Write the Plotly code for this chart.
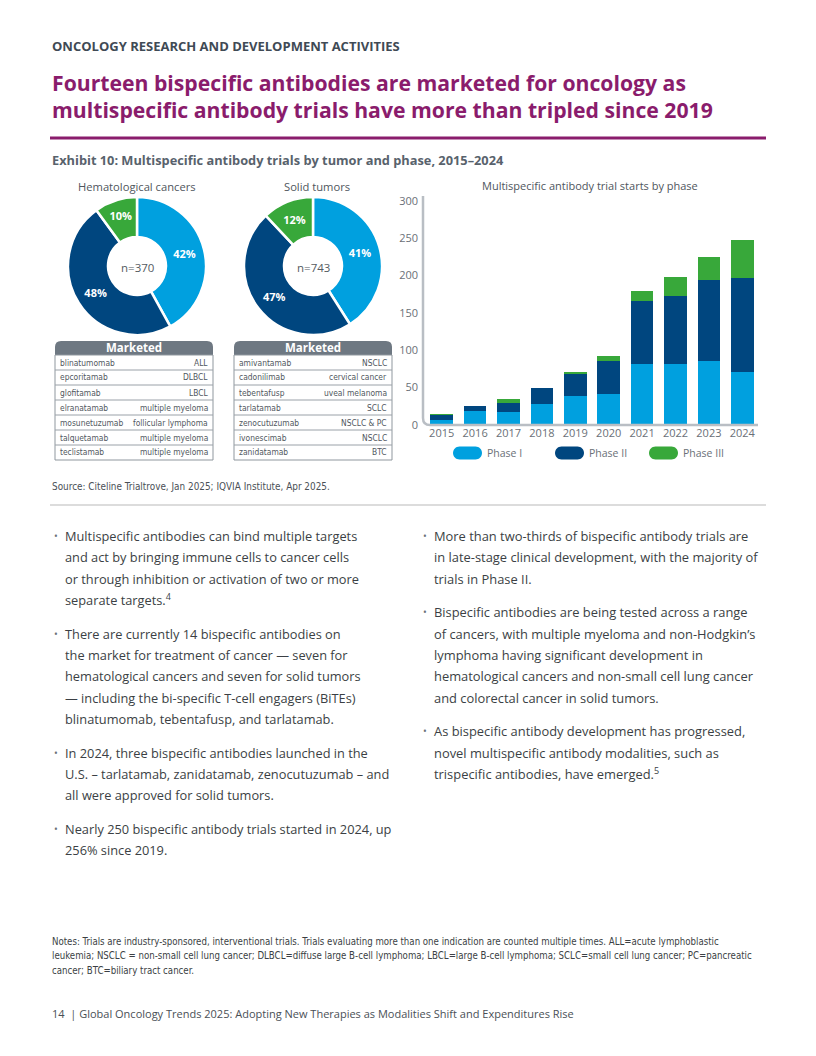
import plotly.graph_objects as go

W, H = 816, 1056
MT, MB = 8, 8  # explicit vertical margins; paper area spans y = MT .. H - MB

# ---------------- data ----------------
years = ["2015", "2016", "2017", "2018", "2019", "2020", "2021", "2022", "2023", "2024"]
phase1 = [7, 19, 18, 28, 39, 41, 82, 81, 85, 71]
phase2 = [7, 7, 12, 21, 30, 45, 84, 92, 109, 126]
phase3 = [1, 0, 5, 0, 1, 6, 13, 25, 31, 50]
phase_names = ["Phase I", "Phase II", "Phase III"]
y_ticks = [0, 50, 100, 150, 200, 250, 300]

heme_pct = [42, 48, 10]
heme_n = "n=370"
solid_pct = [41, 47, 12]
solid_n = "n=743"

heme_drugs = ["blinatumomab", "epcoritamab", "glofitamab", "elranatamab",
              "mosunetuzumab", "talquetamab", "teclistamab"]
heme_ind = ["ALL", "DLBCL", "LBCL", "multiple myeloma", "follicular lymphoma",
            "multiple myeloma", "multiple myeloma"]
solid_drugs = ["amivantamab", "cadonilimab", "tebentafusp", "tarlatamab",
               "zenocutuzumab", "ivonescimab", "zanidatamab"]
solid_ind = ["NSCLC", "cervical cancer", "uveal melanoma", "SCLC",
             "NSCLC & PC", "NSCLC", "BTC"]

left_bullets = [
    ["Multispecific antibodies can bind multiple targets",
     "and act by bringing immune cells to cancer cells",
     "or through inhibition or activation of two or more",
     "separate targets.<sup>4</sup>"],
    ["There are currently 14 bispecific antibodies on",
     "the market for treatment of cancer — seven for",
     "hematological cancers and seven for solid tumors",
     "— including the bi-specific T-cell engagers (BiTEs)",
     "blinatumomab, tebentafusp, and tarlatamab."],
    ["In 2024, three bispecific antibodies launched in the",
     "U.S. – tarlatamab, zanidatamab, zenocutuzumab – and",
     "all were approved for solid tumors."],
    ["Nearly 250 bispecific antibody trials started in 2024, up",
     "256% since 2019."],
]
right_bullets = [
    ["More than two-thirds of bispecific antibody trials are",
     "in late-stage clinical development, with the majority of",
     "trials in Phase II."],
    ["Bispecific antibodies are being tested across a range",
     "of cancers, with multiple myeloma and non-Hodgkin’s",
     "lymphoma having significant development in",
     "hematological cancers and non-small cell lung cancer",
     "and colorectal cancer in solid tumors."],
    ["As bispecific antibody development has progressed,",
     "novel multispecific antibody modalities, such as",
     "trispecific antibodies, have emerged.<sup>5</sup>"],
]

notes_lines = [
    "Notes: Trials are industry-sponsored, interventional trials. Trials evaluating more than one indication are counted multiple times. ALL=acute lymphoblastic",
    "leukemia; NSCLC = non-small cell lung cancer; DLBCL=diffuse large B-cell lymphoma; LBCL=large B-cell lymphoma; SCLC=small cell lung cancer; PC=pancreatic",
    "cancer; BTC=biliary tract cancer.",
]

# ---------------- style ----------------
C1, C2, C3 = "#00a0df", "#00467f", "#38a83a"
colors = [C1, C2, C3]
PURPLE = "#8a1c6c"
GREY_TXT = "#5a6169"
BODY = "#3b3f44"
FONT = "Open Sans, Noto Sans, sans-serif"
NARROW = "Liberation Sans Narrow, DejaVu Sans Condensed, Open Sans, sans-serif"

PH = H - MT - MB


def X(px):
    return px / W


def Y(py):
    return 1 - (py - MT) / PH


fig = go.Figure()

# ---------------- donuts ----------------
def add_donut(vals, cx, cy, r):
    fig.add_trace(go.Pie(
        values=vals, labels=phase_names, sort=False, direction="clockwise",
        rotation=0, hole=0.42,
        marker=dict(colors=colors, line=dict(color="white", width=2.5)),
        texttemplate="<b>%{value}%</b>", textposition="inside",
        insidetextorientation="horizontal",
        insidetextfont=dict(family=FONT, size=11, color="white"),
        domain=dict(x=[X(cx - r), X(cx + r)], y=[Y(cy + r), Y(cy - r)]),
        showlegend=False, hoverinfo="skip",
    ))

add_donut(heme_pct, 137, 266, 69)
add_donut(solid_pct, 313, 266, 69)

# ---------------- bars ----------------
for name, vals, col in zip(phase_names, [phase1, phase2, phase3], colors):
    fig.add_trace(go.Bar(x=years, y=vals, name=name, marker=dict(color=col, line=dict(width=0)),
                         showlegend=False, hoverinfo="skip"))

fig.update_layout(
    width=W, height=H, margin=dict(l=0, r=0, t=MT, b=MB, pad=0),
    paper_bgcolor="white", plot_bgcolor="white",
    barmode="stack", bargap=0.32, showlegend=False,
    font=dict(family=FONT, color=GREY_TXT),
    xaxis=dict(domain=[X(425), X(759)], range=[-0.5, 9.5], type="category",
               showgrid=False, zeroline=False, showline=False, ticks="",
               tickfont=dict(size=11, color="#6a7077")),
    yaxis=dict(domain=[Y(425), Y(200.7)], range=[0, 300], tickvals=y_ticks,
               showgrid=False, zeroline=False, showline=False, ticks="",
               ticklabelstandoff=6,
               tickfont=dict(size=11, color="#6a7077")),
)

shapes = []
annots = []


def text(x, y, s, size, color=BODY, bold=False, xanchor="left", family=FONT):
    if bold:
        s = "<b>" + s + "</b>"
    annots.append(dict(x=X(x), y=Y(y), xref="paper", yref="paper", text=s, showarrow=False,
                       xanchor=xanchor, yanchor="middle",
                       font=dict(size=size, color=color, family=family)))


# axis line with rounded corner
ax_col = "#b9bec4"
path = (f"M {X(423)},{Y(196)} L {X(423)},{Y(418)} "
        f"Q {X(423)},{Y(425)} {X(430)},{Y(425)} L {X(758)},{Y(425)}")
shapes.append(dict(type="path", path=path, xref="paper", yref="paper",
                   line=dict(color=ax_col, width=2.5)))

# header + rules
text(50, 46, "ONCOLOGY RESEARCH AND DEVELOPMENT ACTIVITIES", 13, "#3f4a55", bold=True)
text(50, 83, "Fourteen bispecific antibodies are marketed for oncology as", 21.2, PURPLE, bold=True)
text(50, 110, "multispecific antibody trials have more than tripled since 2019", 21.2, PURPLE, bold=True)
shapes.append(dict(type="line", xref="paper", yref="paper", x0=X(50), x1=X(766), y0=Y(138), y1=Y(138),
                   line=dict(color=PURPLE, width=3)))
text(50, 160, "Exhibit 10: Multispecific antibody trials by tumor and phase, 2015–2024", 12.8, "#58626c", bold=True)

# chart subtitles
text(137, 186, "Hematological cancers", 11.2, "#4f565d", xanchor="center")
text(317, 186, "Solid tumors", 11.2, "#4f565d", xanchor="center")
text(590, 185, "Multispecific antibody trial starts by phase", 11, "#4f565d", xanchor="center")
text(137, 267, heme_n, 11.5, "#555b61", xanchor="center")
text(313, 267, solid_n, 11.5, "#555b61", xanchor="center")

# legend pills
def pill(x0, x1, yc, h, col):
    r = h / 2
    k = 0.5523 * r
    y0, y1 = yc - r, yc + r
    p = (f"M {X(x0 + r)},{Y(y0)} L {X(x1 - r)},{Y(y0)} "
         f"C {X(x1 - r + k)},{Y(y0)} {X(x1)},{Y(yc - k)} {X(x1)},{Y(yc)} "
         f"C {X(x1)},{Y(yc + k)} {X(x1 - r + k)},{Y(y1)} {X(x1 - r)},{Y(y1)} "
         f"L {X(x0 + r)},{Y(y1)} "
         f"C {X(x0 + r - k)},{Y(y1)} {X(x0)},{Y(yc + k)} {X(x0)},{Y(yc)} "
         f"C {X(x0)},{Y(yc - k)} {X(x0 + r - k)},{Y(y0)} {X(x0 + r)},{Y(y0)} Z")
    shapes.append(dict(type="path", path=p, xref="paper", yref="paper",
                       fillcolor=col, line=dict(width=0)))

for name, col, px0 in zip(phase_names, colors, [453, 555, 649]):
    pill(px0, px0 + 29, 453, 13, col)
    text(px0 + 32, 453, name, 10.5, "#6a7077")

# tables
def rounded_top(x0, y0, x1, y1, r, col):
    p = (f"M {X(x0)},{Y(y1)} L {X(x0)},{Y(y0 + r)} Q {X(x0)},{Y(y0)} {X(x0 + r)},{Y(y0)} "
         f"L {X(x1 - r)},{Y(y0)} Q {X(x1)},{Y(y0)} {X(x1)},{Y(y0 + r)} L {X(x1)},{Y(y1)} Z")
    shapes.append(dict(type="path", path=p, xref="paper", yref="paper",
                       fillcolor=col, line=dict(width=0)))


def table(x0, x1, drugs, inds):
    top, hb, rh = 341, 355, 15
    rounded_top(x0, top, x1, hb, 6, "#6e7882")
    text((x0 + x1) / 2, 348, "Marketed", 11.5, "white", bold=True, xanchor="center")
    bot = hb + rh * len(drugs)
    shapes.append(dict(type="rect", xref="paper", yref="paper", x0=X(x0), x1=X(x1), y0=Y(hb), y1=Y(bot),
                       line=dict(color="#8f979e", width=1), fillcolor="rgba(0,0,0,0)"))
    for i, (d, ind) in enumerate(zip(drugs, inds)):
        yc = hb + rh * i + rh / 2
        if i > 0:
            shapes.append(dict(type="line", xref="paper", yref="paper", x0=X(x0), x1=X(x1),
                               y0=Y(hb + rh * i), y1=Y(hb + rh * i),
                               line=dict(color="#9aa1a8", width=1)))
        text(x0 + 3, yc, d, 8.4, "#50575e", family=NARROW)
        text(x1 - 3, yc, ind, 8.4, "#50575e", xanchor="right", family=NARROW)

table(55, 213, heme_drugs, heme_ind)
table(234, 392, solid_drugs, solid_ind)

# source + rule
text(50, 487, "Source: Citeline Trialtrove, Jan 2025; IQVIA Institute, Apr 2025.", 9.9, "#4a5056", family=NARROW)
shapes.append(dict(type="line", xref="paper", yref="paper", x0=X(50), x1=X(766), y0=Y(505), y1=Y(505),
                   line=dict(color="#dcdcdc", width=2)))

# bullets
def bullets(blocks, xb, xt, y_start, lh, gap, size):
    y = y_start
    for blk in blocks:
        text(xb, y, "•", 10, "#6a7077")
        for ln in blk:
            text(xt, y, ln, size, BODY)
            y += lh
        y += gap

bullets(left_bullets, 52, 63, 536, 21.3, 12.5, 12.8)
bullets(right_bullets, 421, 432, 536, 21.3, 12.5, 12.9)

# notes
for i, ln in enumerate(notes_lines):
    text(50, 941 + i * 14.5, ln, 9.6, "#3b3f44", family=NARROW)

text(50, 1013, "14  | Global Oncology Trends 2025: Adopting New Therapies as Modalities Shift and Expenditures Rise",
     11, "#4a5056")

fig.update_layout(shapes=shapes, annotations=annots)
fig.write_html("out.html", config={"displayModeBar": False}, post_script=(
    "document.body.style.margin='0';document.body.style.padding='0';"
    "document.documentElement.style.overflow='hidden';"))
